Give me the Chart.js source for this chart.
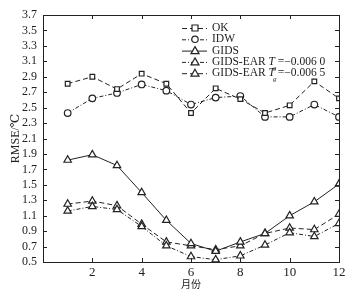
<!DOCTYPE html>
<html>
<head>
<meta charset="utf-8">
<script src="https://cdn.jsdelivr.net/npm/chart.js@4/dist/chart.umd.min.js"></script>
<style>
  html, body { margin: 0; padding: 0; background: #fff; }
  #wrap { width: 363px; height: 295px; }
</style>
</head>
<body>
<div id="wrap"><canvas id="myChart" width="363" height="295"></canvas></div>
<script>
// values
const months = [1, 2, 3, 4, 5, 6, 7, 8, 9, 10, 11, 12];
const okVals   = [2.81, 2.90, 2.74, 2.94, 2.81, 2.43, 2.75, 2.61, 2.43, 2.53, 2.84, 2.62];
const idwVals  = [2.43, 2.62, 2.69, 2.80, 2.72, 2.54, 2.63, 2.65, 2.38, 2.38, 2.54, 2.38];
const gidsVals = [1.82, 1.89, 1.75, 1.40, 1.04, 0.74, 0.64, 0.76, 0.87, 1.10, 1.28, 1.51];
const ear60Vals = [1.16, 1.22, 1.18, 0.96, 0.71, 0.57, 0.53, 0.58, 0.72, 0.88, 0.83, 1.00];
const ear65Vals = [1.25, 1.29, 1.23, 0.99, 0.76, 0.71, 0.66, 0.71, 0.87, 0.94, 0.92, 1.12];
const xTicks = [2, 4, 6, 8, 10, 12];
const yTicks = [0.5, 0.7, 0.9, 1.1, 1.3, 1.5, 1.7, 1.9, 2.1, 2.3, 2.5, 2.7, 2.9, 3.1, 3.3, 3.5, 3.7];

const serif = "'Liberation Serif', 'DejaVu Serif', serif";
const ink = '#222';

function toPoints(vals) {
    return months.map((m, i) => ({ x: m, y: vals[i] }));
}

function series(label, vals, dash, shape) {
    return {
        label: label,
        data: toPoints(vals),
        borderColor: ink,
        borderWidth: 1,
        borderDash: dash,
        pointStyle: shape,
        pointRadius: shape === 'triangle' ? 4.3 : 3.3,
        pointBorderWidth: 1.2,
        pointBackgroundColor: '#fff',
        pointBorderColor: ink,
        tension: 0
    };
}

const datasets = [
    series('OK', okVals, [5, 3], 'rect'),
    series('IDW', idwVals, [4, 2, 1, 2], 'circle'),
    series('GIDS', gidsVals, [], 'triangle'),
    series('GIDS-EAR T_g=-0.006 0', ear60Vals, [4, 2, 1, 2], 'triangle'),
    series('GIDS-EAR T_g=-0.006 5', ear65Vals, [5, 3], 'triangle')
];
datasets[3].tex = '\u22120.006 0';
datasets[4].tex = '\u22120.006 5';

function marker(ctx, shape, x, y) {
    ctx.save();
    ctx.setLineDash([]);
    ctx.fillStyle = '#fff';
    ctx.strokeStyle = ink;
    ctx.lineWidth = 1.2;
    ctx.beginPath();
    if (shape === 'rect') {
        ctx.rect(x - 3, y - 3, 6, 6);
    } else if (shape === 'circle') {
        ctx.arc(x, y, 3.2, 0, Math.PI * 2);
    } else {
        ctx.moveTo(x, y - 4);
        ctx.lineTo(x + 4, y + 3);
        ctx.lineTo(x - 4, y + 3);
        ctx.closePath();
    }
    ctx.fill();
    ctx.stroke();
    ctx.restore();
}

// frame, inward ticks and legend
const framePlugin = {
    id: 'frame',
    afterDraw(chart) {
        const ctx = chart.ctx;
        const a = chart.chartArea;
        const xs = chart.scales.x, ys = chart.scales.y;
        ctx.save();
        ctx.strokeStyle = ink;
        ctx.lineWidth = 1;
        ctx.strokeRect(a.left + 0.5, a.top + 0.5, a.right - a.left, a.bottom - a.top);
        ctx.beginPath();
        xTicks.forEach(v => {
            const px = Math.round(xs.getPixelForValue(v)) + 0.5;
            ctx.moveTo(px, a.bottom); ctx.lineTo(px, a.bottom - 4);
            ctx.moveTo(px, a.top); ctx.lineTo(px, a.top + 4);
        });
        yTicks.forEach(v => {
            const py = Math.round(ys.getPixelForValue(v)) + 0.5;
            ctx.moveTo(a.left, py); ctx.lineTo(a.left + 4, py);
            ctx.moveTo(a.right, py); ctx.lineTo(a.right - 4, py);
        });
        ctx.stroke();

        // legend
        let ly = 28;
        chart.data.datasets.forEach(ds => {
            ctx.save();
            ctx.strokeStyle = ink;
            ctx.lineWidth = 1;
            ctx.setLineDash(ds.borderDash);
            ctx.beginPath();
            ctx.moveTo(182, ly + 0.5);
            ctx.lineTo(207, ly + 0.5);
            ctx.stroke();
            ctx.restore();
            marker(ctx, ds.pointStyle, 195, ly);
            ctx.fillStyle = ink;
            ctx.textBaseline = 'middle';
            ctx.font = '11.5px ' + serif;
            let tx = 212;
            if (ds.tex) {
                const head = 'GIDS-EAR ';
                ctx.fillText(head, tx, ly);
                tx += ctx.measureText(head).width;
                ctx.font = 'italic 11.5px ' + serif;
                ctx.fillText('T', tx, ly);
                const tw = ctx.measureText('T').width;
                ctx.font = 'italic 7px ' + serif;
                ctx.fillText('g', tx + tw - 2, ly + 6);
                tx += tw;
                ctx.font = '11.5px ' + serif;
                ctx.fillText(' =' + ds.tex, tx, ly);
            } else {
                ctx.fillText(ds.label, tx, ly);
            }
            ly += 11.3;
        });
        ctx.restore();
    }
};

const ctx = document.getElementById('myChart').getContext('2d');
const myChart = new Chart(ctx, {
    type: 'line',
    data: { datasets: datasets },
    options: {
        responsive: false,
        animation: false,
        layout: { padding: { left: 9, right: 24, top: 15, bottom: 5 } },
        plugins: { legend: { display: false }, tooltip: { enabled: false } },
        scales: {
            x: {
                type: 'linear',
                min: 0,
                max: 12,
                afterFit(scale) { scale.height = 28; },
                afterBuildTicks(scale) { scale.ticks = xTicks.map(v => ({ value: v })); },
                grid: { display: false, drawTicks: false },
                border: { display: false },
                ticks: {
                    color: ink,
                    padding: 3,
                    autoSkip: false,
                    maxRotation: 0,
                    font: { family: serif, size: 13 },
                    callback: v => String(v)
                },
                title: {
                    display: true,
                    text: '月份',
                    color: ink,
                    padding: { top: 0, bottom: 0 },
                    font: { family: "'Noto Sans CJK SC', sans-serif", size: 10 }
                }
            },
            y: {
                min: 0.5,
                max: 3.7,
                afterFit(scale) { scale.width = 34; },
                afterBuildTicks(scale) { scale.ticks = yTicks.map(v => ({ value: v })); },
                grid: { display: false, drawTicks: false },
                border: { display: false },
                ticks: {
                    color: ink,
                    padding: 6,
                    autoSkip: false,
                    font: { family: serif, size: 12 },
                    callback: v => Number(v).toFixed(1)
                },
                title: {
                    display: true,
                    text: 'RMSE/\u2103',
                    color: ink,
                    padding: { top: 0, bottom: 0 },
                    font: { family: serif, size: 12 }
                }
            }
        }
    },
    plugins: [framePlugin]
});
</script>
</body>
</html>
